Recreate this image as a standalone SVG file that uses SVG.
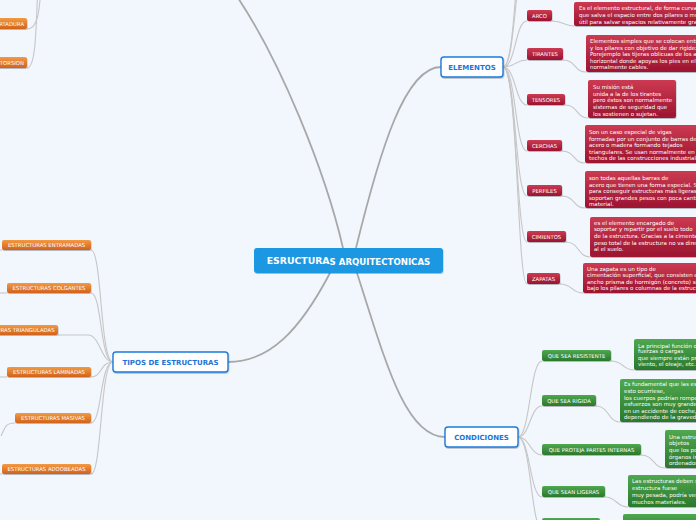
<svg xmlns="http://www.w3.org/2000/svg" width="696" height="520" viewBox="0 0 696 520">
<defs>
<linearGradient id="gr" x1="0" y1="0" x2="0" y2="1"><stop offset="0" stop-color="#cc3a52"/><stop offset="1" stop-color="#9c1430"/></linearGradient>
<linearGradient id="gg" x1="0" y1="0" x2="0" y2="1"><stop offset="0" stop-color="#4fa84f"/><stop offset="1" stop-color="#2b782c"/></linearGradient>
<linearGradient id="go" x1="0" y1="0" x2="0" y2="1"><stop offset="0" stop-color="#f29a45"/><stop offset="1" stop-color="#d2631b"/></linearGradient>
<filter id="sh" x="-10%" y="-20%" width="120%" height="160%"><feDropShadow dx="0.5" dy="1" stdDeviation="0.7" flood-color="#000" flood-opacity="0.25"/></filter>
<style>
text{font-family:"DejaVu Sans","Liberation Sans",sans-serif;}
.red{fill:url(#gr);filter:url(#sh);}
.grn{fill:url(#gg);filter:url(#sh);}
.org{fill:url(#go);filter:url(#sh);}
.blue{fill:#fff;stroke:#1b7bdc;stroke-width:1.4;filter:url(#sh);}
.lbl{fill:#fff;font-size:5.3px;text-anchor:middle;}
.dsc{fill:#fff;font-size:5.5px;}
.bl{fill:#1b74d8;font-size:7px;font-weight:bold;text-anchor:middle;}
.main{fill:none;stroke:#a8a8a8;stroke-width:1.8;}
.sub{fill:none;stroke:#c6c6c6;stroke-width:1.1;}
</style>
</defs>
<rect width="696" height="520" fill="#f2f6fd"/>
<g id="connectors">
<path class="main" d="M356,248 C380,150 405,67 441,67"/>
<path class="main" d="M343,248 C325,170 280,60 236,-5"/>
<path class="main" d="M330,273 C300,330 270,362 228,362"/>
<path class="main" d="M357,273 C385,360 405,437 445,437"/>
<path class="sub" d="M503,67 C516,67 514,-40 527,-40"/>
<path class="sub" d="M503,67 C517,67 516,-90 527,-90"/>
<path class="sub" d="M503,67 C516,67 515,21 527,21"/>
<path class="sub" d="M503,67 C516,67 515,60 527,60"/>
<path class="sub" d="M503,67 C516,67 515,105 527,105"/>
<path class="sub" d="M503,67 C516,67 515,151 527,151"/>
<path class="sub" d="M503,67 C516,67 515,196 527,196"/>
<path class="sub" d="M503,67 C517,67 516,242 527,242"/>
<path class="sub" d="M503,67 C518,67 517,284 527,284"/>
<path class="sub" d="M552,21 C565,21 562,26 574,26"/>
<path class="sub" d="M563,60 C576,60 574,72 586,72"/>
<path class="sub" d="M565,105 C578,105 576,118 588,118"/>
<path class="sub" d="M562,151 C575,151 573,163 585,163"/>
<path class="sub" d="M562,196 C575,196 573,208 585,208"/>
<path class="sub" d="M566,242 C579,242 578,257 590,257"/>
<path class="sub" d="M560,284 C573,284 571,293 583,293"/>
<path class="sub" d="M518,437 C530,437 530,361 542,361"/>
<path class="sub" d="M518,437 C530,437 530,406 542,406"/>
<path class="sub" d="M518,437 C530,437 530,455 542,455"/>
<path class="sub" d="M518,437 C530,437 530,497 542,497"/>
<path class="sub" d="M518,437 C531,437 531,529 542,529"/>
<path class="sub" d="M611,361 C624,361 622,370 634,370"/>
<path class="sub" d="M596,406 C609,406 608,422 620,422"/>
<path class="sub" d="M641,455 C654,455 653,468 665,468"/>
<path class="sub" d="M605,497 C617,497 616,507 628,507"/>
<path class="sub" d="M600,529 C612,529 611,534 623,534"/>
<path class="sub" d="M113,362 C100,362 102,250 91,250"/>
<path class="sub" d="M113,362 C100,362 102,293 91,293"/>
<path class="sub" d="M113,362 C101,362 100,335 88,335 L58,335"/>
<path class="sub" d="M113,362 C100,362 102,377 91,377"/>
<path class="sub" d="M113,362 C100,362 102,423 91,423"/>
<path class="sub" d="M113,362 C100,362 102,474 91,474"/>
<path class="sub" d="M2,250 L-5,250"/>
<path class="sub" d="M7,293 L-5,293"/>
<path class="sub" d="M7,377 L-5,377"/>
<path class="sub" d="M15,423 C5,423 5,428 1,436"/>
<path class="sub" d="M2,474 L-5,474"/>
<path class="sub" d="M27,29 C37,29 40,15 41,-20"/>
<path class="sub" d="M27,68 C35,68 36,40 38,-20"/>
</g>
<g id="center"><rect x="254" y="248" width="189" height="25" rx="3" fill="#1b97e2" filter="url(#sh)"/><text x="348.5" y="264" fill="#fff" font-weight="bold" text-anchor="middle"><tspan font-size="9.3">ESRUCTURA</tspan><tspan font-size="8.6" dy="0.5">S ARQUITECTONICAS</tspan></text></g>
<g id="elementos"><rect class="blue" x="441" y="57" width="62" height="20" rx="3"/><text class="bl" x="472" y="69.5">ELEMENTOS</text></g>
<g id="condiciones"><rect class="blue" x="445" y="427" width="73" height="20" rx="3"/><text class="bl" x="481.5" y="439.5">CONDICIONES</text></g>
<g id="tipos"><rect class="blue" x="113" y="352" width="115" height="20" rx="3"/><text class="bl" x="170.5" y="364.5">TIPOS DE ESTRUCTURAS</text></g>
<g id="arco"><rect class="red" x="527" y="10" width="25" height="11" rx="2"/><text class="lbl" x="539.5" y="17.5">ARCO</text></g>
<g id="tirantes"><rect class="red" x="527" y="48" width="36" height="12" rx="2"/><text class="lbl" x="545" y="56">TIRANTES</text></g>
<g id="tensores"><rect class="red" x="527" y="94" width="38" height="11" rx="2"/><text class="lbl" x="546" y="101.5">TENSORES</text></g>
<g id="cerchas"><rect class="red" x="527" y="140" width="35" height="11" rx="2"/><text class="lbl" x="544.5" y="147.5">CERCHAS</text></g>
<g id="perfiles"><rect class="red" x="527" y="185" width="35" height="11" rx="2"/><text class="lbl" x="544.5" y="192.5">PERFILES</text></g>
<g id="cimientos"><rect class="red" x="527" y="231" width="39" height="11" rx="2"/><text class="lbl" x="546.5" y="238.5">CIMIENTOS</text></g>
<g id="zapatas"><rect class="red" x="527" y="273" width="33" height="11" rx="2"/><text class="lbl" x="543.5" y="280.5">ZAPATAS</text></g>
<g id="arco-desc"><rect class="red" x="574" y="2" width="140" height="24" rx="2"/><text class="dsc" x="579"><tspan x="579" y="10">Es el elemento estructural, de forma curva,</tspan><tspan x="579" y="17">que salva el espacio entre dos pilares o muros.</tspan><tspan x="579" y="24">útil para salvar espacios relativamente grandes</tspan></text></g>
<g id="tirantes-desc"><rect class="red" x="586" y="35" width="130" height="37" rx="2"/><text class="dsc"><tspan x="590" y="43">Elementos simples que se colocan entre</tspan><tspan x="590" y="49.5">y los pilares con objetivo de dar rigidez</tspan><tspan x="590" y="56">Porejemplo las tijeras oblicuas de los armarios</tspan><tspan x="590" y="62.5">horizontal donde apoyas los pies en el</tspan><tspan x="590" y="69">normalmente cables.</tspan></text></g>
<g id="tensores-desc"><rect class="red" x="588" y="80" width="88" height="38" rx="2"/><text class="dsc"><tspan x="593" y="89">Su misión está</tspan><tspan x="593" y="95.7">unida a la de los tirantes</tspan><tspan x="593" y="102.3">pero éstos son normalmente</tspan><tspan x="593" y="109">sistemas de seguridad que</tspan><tspan x="593" y="115.7">los sostienen o sujetan.</tspan></text></g>
<g id="cerchas-desc"><rect class="red" x="585" y="125" width="130" height="38" rx="2"/><text class="dsc"><tspan x="589" y="134.3">Son un caso especial de vigas</tspan><tspan x="589" y="141">formadas por un conjunto de barras de</tspan><tspan x="589" y="147.3">acero o madera formando tejados</tspan><tspan x="589" y="154">triangulares. Se usan normalmente en</tspan><tspan x="589" y="160.3">techos de las construcciones industriales</tspan></text></g>
<g id="perfiles-desc"><rect class="red" x="585" y="171" width="130" height="37" rx="2"/><text class="dsc"><tspan x="589" y="180.3">son todas aquellas barras de</tspan><tspan x="589" y="187">acero que tienen una forma especial. Se</tspan><tspan x="589" y="193.3">para conseguir estructuras más ligeras</tspan><tspan x="589" y="199.7">soportan grandes pesos con poca cantidad</tspan><tspan x="589" y="206">material.</tspan></text></g>
<g id="cimientos-desc"><rect class="red" x="590" y="217" width="130" height="40" rx="2"/><text class="dsc"><tspan x="594" y="224.7">es el elemento encargado de</tspan><tspan x="594" y="231.3">soportar y repartir por el suelo todo</tspan><tspan x="594" y="238">de la estructura. Gracias a la cimentación</tspan><tspan x="594" y="244.7">peso total de la estructura no va directo</tspan><tspan x="594" y="251">al el suelo.</tspan></text></g>
<g id="zapatas-desc"><rect class="red" x="583" y="263" width="130" height="30" rx="2"/><text class="dsc"><tspan x="587" y="271">Una zapata es un tipo de</tspan><tspan x="587" y="277.3">cimentación superficial, que consisten en</tspan><tspan x="587" y="283.7">ancho prisma de hormigón (concreto) situado</tspan><tspan x="587" y="290">bajo los pilares o columnas de la estructura</tspan></text></g>
<g id="resistente"><rect class="grn" x="542" y="350" width="69" height="11" rx="2"/><text class="lbl" x="576.5" y="357.5">QUE SEA RESISTENTE</text></g>
<g id="rigida"><rect class="grn" x="542" y="395" width="54" height="11" rx="2"/><text class="lbl" x="569" y="402.5">QUE SEA RIGIDA</text></g>
<g id="proteja"><rect class="grn" x="542" y="444" width="99" height="11" rx="2"/><text class="lbl" x="591.5" y="451.5">QUE PROTEJA PARTES INTERNAS</text></g>
<g id="ligeras"><rect class="grn" x="542" y="486" width="63" height="11" rx="2"/><text class="lbl" x="573.5" y="493.5">QUE SEAN LIGERAS</text></g>
<g id="quinto"><rect class="grn" x="542" y="518" width="58" height="11" rx="2"/></g>
<g id="resistente-desc"><rect class="grn" x="634" y="339" width="80" height="31" rx="2"/><text class="dsc"><tspan x="638" y="347.7">La principal función de</tspan><tspan x="638" y="353.3">fuerzas o cargas</tspan><tspan x="638" y="360">que siempre están presentes</tspan><tspan x="638" y="366">viento, el oleaje, etc.</tspan></text></g>
<g id="rigida-desc"><rect class="grn" x="620" y="379" width="90" height="43" rx="2"/><text class="dsc"><tspan x="624" y="386.3">Es fundamental que las estructuras</tspan><tspan x="624" y="393">esto ocurriese,</tspan><tspan x="624" y="399.7">los cuerpos podrían romperse</tspan><tspan x="624" y="405.7">esfuerzos son muy grandes</tspan><tspan x="624" y="412.7">en un accidente de coche,</tspan><tspan x="624" y="419">dependiendo de la gravedad</tspan></text></g>
<g id="proteja-desc"><rect class="grn" x="665" y="430" width="60" height="38" rx="2"/><text class="dsc"><tspan x="669" y="438.7">Una estructura</tspan><tspan x="669" y="445.3">objetos</tspan><tspan x="669" y="452">que los pone</tspan><tspan x="669" y="458.7">órganos internos</tspan><tspan x="669" y="465.3">ordenados</tspan></text></g>
<g id="ligeras-desc"><rect class="grn" x="628" y="475" width="90" height="32" rx="2"/><text class="dsc"><tspan x="632" y="483">Las estructuras deben ser</tspan><tspan x="632" y="489.5">estructura fuese</tspan><tspan x="632" y="497">muy pesada, podría venirse</tspan><tspan x="632" y="504">muchos materiales.</tspan></text></g>
<g id="quinto-desc"><rect class="grn" x="623" y="514" width="90" height="20" rx="2"/></g>
<g id="entramadas"><rect class="org" x="2" y="240" width="89" height="10" rx="2"/><text class="lbl" x="46.5" y="247">ESTRUCTURAS ENTRAMADAS</text></g>
<g id="colgantes"><rect class="org" x="7" y="283" width="84" height="10" rx="2"/><text class="lbl" x="49" y="290">ESTRUCTURAS COLGANTES</text></g>
<g id="trianguladas"><rect class="org" x="-35" y="325" width="93" height="10" rx="2"/><text class="lbl" x="54.5" y="332" text-anchor="end" style="text-anchor:end">ESTRUCTURAS TRIANGULADAS</text></g>
<g id="laminadas"><rect class="org" x="7" y="367" width="84" height="10" rx="2"/><text class="lbl" x="49" y="374">ESTRUCTURAS LAMINADAS</text></g>
<g id="masivas"><rect class="org" x="15" y="413" width="76" height="10" rx="2"/><text class="lbl" x="53" y="420">ESTRUCTURAS MASIVAS</text></g>
<g id="adoobeadas"><rect class="org" x="2" y="464" width="89" height="10" rx="2"/><text class="lbl" x="46.5" y="471">ESTRUCTURAS ADOOBEADAS</text></g>
<g id="cortadura"><rect class="org" x="-30" y="18" width="57" height="11" rx="2"/><text class="lbl" x="24" y="25.5" style="text-anchor:end">CORTADURA</text></g>
<g id="torsion"><rect class="org" x="-30" y="57" width="57" height="11" rx="2"/><text class="lbl" x="24" y="64.5" style="text-anchor:end">TORSION</text></g>
</svg>
